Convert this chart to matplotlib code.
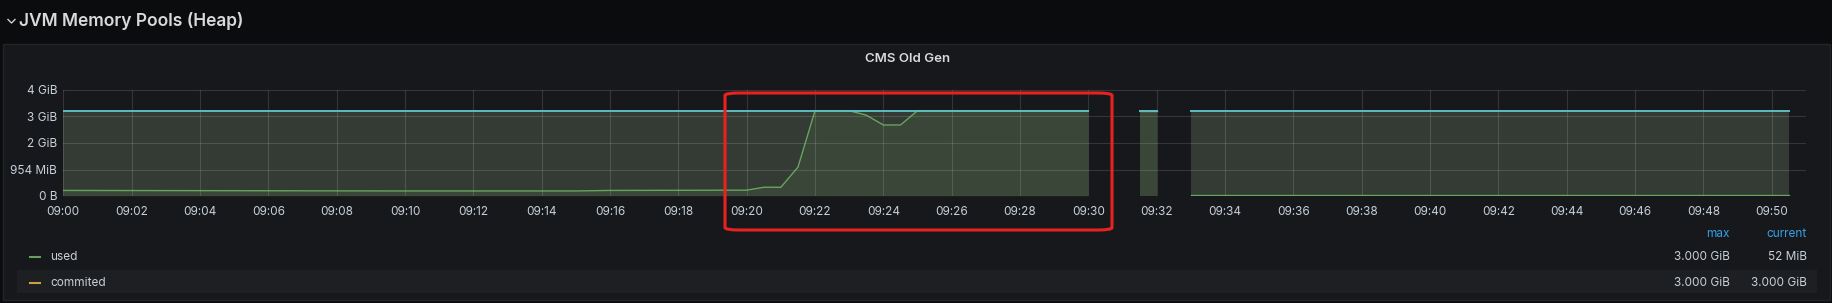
import pandas as pd
import matplotlib.pyplot as plt
import matplotlib.dates as mdates
from matplotlib.patches import Rectangle, FancyBboxPatch
from matplotlib.lines import Line2D

plt.rcParams['font.family'] = ['Inter', 'DejaVu Sans']

# dados (valores em GB = 1e9 bytes)
dia = "2021-01-01 "
tempo1 = ["09:00:00", "09:05:00", "09:10:00", "09:15:00", "09:16:00", "09:20:00", "09:20:30", "09:21:00",
          "09:21:30", "09:22:00", "09:23:00", "09:23:30", "09:24:00", "09:24:30", "09:25:00", "09:30:00"]
usado1 = [0.21, 0.20, 0.19, 0.19, 0.21, 0.22, 0.33, 0.33,
          1.09, 3.22, 3.22, 3.05, 2.68, 2.68, 3.22, 3.22]
tempo2 = ["09:31:30", "09:32:00"]
usado2 = [3.22, 3.22]
tempo3 = ["09:33:00", "09:40:00", "09:50:30"]
usado3 = [0.055, 0.055, 0.055]
commited = 3.221  # 3 GiB

yticks = [0, 1, 2, 3, 4]
ylabels = ["0 B", "954 MiB", "2 GiB", "3 GiB", "4 GiB"]

legenda = ["used", "commited"]
coresLegenda = ["#6a9e5f", "#c9a13c"]
valoresMax = ["3.000 GiB", "3.000 GiB"]
valoresAtual = ["52 MiB", "3.000 GiB"]

W, H = 1832, 303
fig = plt.figure(figsize=(W / 100, H / 100), dpi=100)
fig.patch.set_facecolor("#0b0c0e")

def fx(x):
    return x / W

def fy(y):
    return 1 - y / H

# painel
painel = Rectangle((fx(3), fy(300)), fx(1827), 256 / H, transform=fig.transFigure,
                   facecolor="#17181c", edgecolor="#222428", lw=1, zorder=-2)
fig.patches.append(painel)
linhaFundo = Rectangle((fx(17), fy(293)), fx(1800), 23 / H, transform=fig.transFigure,
                       facecolor="#1d1f23", edgecolor="none", zorder=-1)
fig.patches.append(linhaFundo)

# cabeçalho
fig.add_artist(Line2D([fx(8), fx(11.5), fx(15)], [fy(19.5), fy(23), fy(19.5)],
                      transform=fig.transFigure, color="#c7d0d9", lw=1))
fig.text(fx(19), fy(21), "JVM Memory Pools (Heap)", color="#d8d9da", fontsize=12.5,
         fontweight="semibold", va="center", ha="left")
fig.text(fx(908), fy(59), "CMS Old Gen", color="#d8d9da", fontsize=9.5,
         fontweight="semibold", va="center", ha="center")

ax = fig.add_axes([fx(63.3), fy(196), (1806 - 63.3) / W, 106 / H])
ax.set_facecolor("#17181c")

corCommit = "#343b34"
corUsado = "#73bf69"
corLinhaCommit = "#5fbcbf"

for tempo, usado in [(tempo1, usado1), (tempo2, usado2), (tempo3, usado3)]:
    t = pd.to_datetime([dia + s for s in tempo])
    topo = [commited] * len(t)
    ax.fill_between(t, 0, topo, color=corCommit, lw=0, zorder=1)
    ax.fill_between(t, 0, usado, color=corUsado, alpha=0.09, lw=0, zorder=2)
    ax.plot(t, topo, color=corLinhaCommit, lw=1.4, zorder=4)
    ax.plot(t, usado, color=corUsado, lw=1.0, alpha=0.8, zorder=3)

ax.set_xlim(pd.Timestamp(dia + "09:00"), pd.Timestamp(dia + "09:51"))
ax.set_ylim(0, 4)
ax.xaxis.set_major_locator(mdates.MinuteLocator(byminute=range(0, 60, 2)))
ax.xaxis.set_major_formatter(mdates.DateFormatter("%H:%M"))
ax.set_yticks(yticks)
ax.set_yticklabels(ylabels)
ax.tick_params(colors="#c7d0d9", labelsize=8.5, length=0)
ax.tick_params(axis="x", pad=7)
ax.tick_params(axis="y", pad=4.5)
ax.grid(True, color="white", alpha=0.13, lw=0.8, zorder=5)
ax.set_axisbelow(False)
for s in ax.spines.values():
    s.set_visible(False)

# legenda
fig.text(fx(1730), fy(234), "max", color="#33a2e5", fontsize=8.5, ha="right", va="center")
fig.text(fx(1806.7), fy(234), "current", color="#33a2e5", fontsize=8.5, ha="right", va="center")
for i, nome in enumerate(legenda):
    y = 256.7 + 26 * i
    fig.add_artist(Line2D([fx(30), fx(40)], [fy(y), fy(y)], transform=fig.transFigure,
                          color=coresLegenda[i], lw=1.5))
    fig.text(fx(50), fy(y), nome, color="#c7d0d9", fontsize=8.5, va="center")
    fig.text(fx(1730), fy(y), valoresMax[i], color="#c7d0d9", fontsize=8.5, ha="right", va="center")
    fig.text(fx(1806.7), fy(y), valoresAtual[i], color="#c7d0d9", fontsize=8.5, ha="right", va="center")

# destaque vermelho
caixa = FancyBboxPatch((fx(725), fy(230)), fx(1112 - 725), 137 / H,
                       boxstyle="round,pad=0,rounding_size=0.008", transform=fig.transFigure,
                       facecolor="none", edgecolor="#e8231f", lw=2.2, zorder=10)
fig.patches.append(caixa)

fig.savefig("out.png", dpi=100, facecolor=fig.get_facecolor())
